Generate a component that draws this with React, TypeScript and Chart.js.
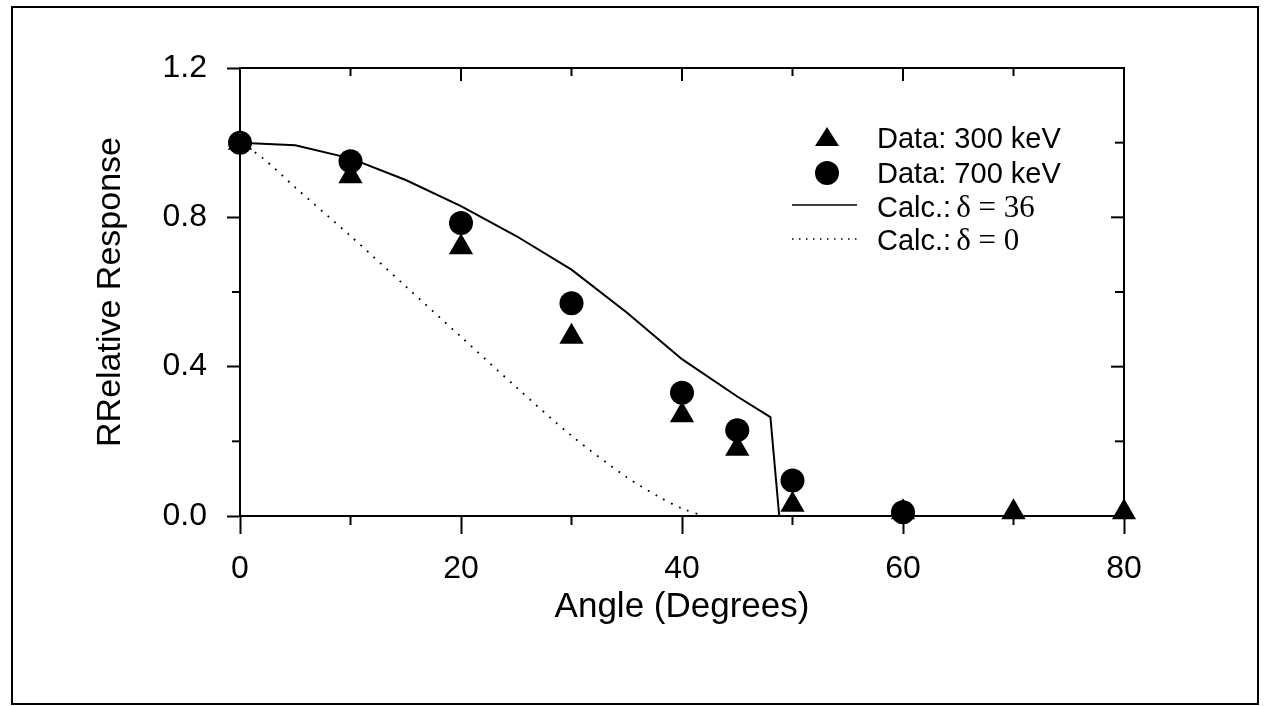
import React, { useEffect, useRef } from 'react';
import { Chart, registerables } from 'chart.js';

Chart.register(...registerables);

// ---- data ----
const angles300 = [0, 10, 20, 30, 40, 45, 50, 60, 70, 80];
const resp300 = [1.0, 0.91, 0.72, 0.48, 0.27, 0.18, 0.03, 0.01, 0.01, 0.01];

const angles700 = [0, 10, 20, 30, 40, 45, 50, 60];
const resp700 = [1.0, 0.95, 0.785, 0.57, 0.33, 0.23, 0.095, 0.01];

const calc36Angles = [0, 5, 10, 15, 20, 25, 30, 35, 40, 45, 48, 48.8, 80];
const calc36 = [1.0, 0.993, 0.958, 0.9, 0.83, 0.75, 0.66, 0.545, 0.42, 0.32, 0.265, 0, 0];

const calc0Angles = [0, 2, 5, 10, 15, 20, 25, 30, 35, 38, 40, 42];
const calc0 = [1.0, 0.96, 0.88, 0.75, 0.615, 0.48, 0.345, 0.215, 0.104, 0.05, 0.02, 0];

const xMajorTicks = [0, 20, 40, 60, 80];
const xMinorTicks = [10, 30, 50, 70];
const yMajorTicks = [0, 0.4, 0.8, 1.2];
const yMinorTicks = [0.2, 0.6, 1.0];

const legendLabels = ['Data: 300 keV', 'Data: 700 keV', 'Calc.: ', 'Calc.: '];
const legendSerif = ['', '', 'δ = 36', 'δ = 0'];

const SANS = '"Liberation Sans", Arial, Helvetica, sans-serif';
const SERIF = '"Liberation Serif", "Times New Roman", serif';

const pts = (xs: number[], ys: number[]) => xs.map((x, i) => ({ x, y: ys[i] }));

const decorPlugin = {
  id: 'decor',
  afterDraw(chart: any) {
    const ctx = chart.ctx as CanvasRenderingContext2D;
    const { left, right, top, bottom } = chart.chartArea;
    const xs = chart.scales.x;
    const ys = chart.scales.y;
    ctx.save();
    ctx.strokeStyle = '#000';
    ctx.fillStyle = '#000';
    ctx.lineWidth = 2;
    // top and right frame of plot
    ctx.beginPath();
    ctx.moveTo(left, top);
    ctx.lineTo(right, top);
    ctx.lineTo(right, bottom);
    ctx.stroke();
    const seg = (x1: number, y1: number, x2: number, y2: number) => {
      ctx.beginPath();
      ctx.moveTo(x1, y1);
      ctx.lineTo(x2, y2);
      ctx.stroke();
    };
    xMinorTicks.forEach((v) => {
      const p = xs.getPixelForValue(v);
      seg(p, bottom, p, bottom + 9);
      seg(p, top, p, top + 8);
    });
    xMajorTicks.forEach((v) => {
      const p = xs.getPixelForValue(v);
      seg(p, top, p, top + 13);
    });
    yMinorTicks.forEach((v) => {
      const p = ys.getPixelForValue(v);
      seg(left - 8, p, left, p);
      seg(right - 9, p, right, p);
    });
    yMajorTicks.forEach((v) => {
      const p = ys.getPixelForValue(v);
      seg(right - 13, p, right, p);
    });

    // legend
    const symX = left + 587;
    const textX = left + 637;
    const rows = [top + 80, top + 115, top + 149, top + 182];
    ctx.textBaseline = 'alphabetic';
    ctx.textAlign = 'left';
    legendLabels.forEach((lab, i) => {
      const base = rows[i];
      const cy = base - 10;
      ctx.font = `29px ${SANS}`;
      ctx.fillText(lab, textX, base);
      if (legendSerif[i]) {
        const w = ctx.measureText(lab).width;
        ctx.font = `31px ${SERIF}`;
        ctx.fillText(legendSerif[i], textX + w - 3, base);
      }
      if (i === 0) {
        ctx.beginPath();
        ctx.moveTo(symX, cy - 11);
        ctx.lineTo(symX + 12, cy + 8);
        ctx.lineTo(symX - 12, cy + 8);
        ctx.closePath();
        ctx.fill();
      } else if (i === 1) {
        ctx.beginPath();
        ctx.arc(symX, cy, 12, 0, Math.PI * 2);
        ctx.fill();
      } else if (i === 2) {
        ctx.lineWidth = 1.5;
        seg(symX - 35, cy - 2, symX + 30, cy - 2);
      } else {
        ctx.lineWidth = 1.5;
        ctx.setLineDash([1.5, 5.5]);
        seg(symX - 35, cy - 1, symX + 30, cy - 1);
        ctx.setLineDash([]);
      }
    });

    // outer frame
    ctx.lineWidth = 2;
    ctx.strokeRect(12, 7, 1246, 697);
    ctx.restore();
  },
};

export default function App() {
  const ref = useRef<HTMLCanvasElement>(null);
  useEffect(() => {
    const canvas = ref.current;
    if (!canvas) return;
    const chart = new Chart(canvas, {
      type: 'scatter',
      data: {
        datasets: [
          {
            label: 'Calc.: δ = 36',
            data: pts(calc36Angles, calc36),
            showLine: true,
            borderColor: '#000',
            borderWidth: 2,
            pointRadius: 0,
            tension: 0,
            fill: false,
          },
          {
            label: 'Calc.: δ = 0',
            data: pts(calc0Angles, calc0),
            showLine: true,
            borderColor: '#000',
            borderWidth: 1.8,
            borderDash: [1.8, 7],
            pointRadius: 0,
            tension: 0.3,
            fill: false,
          },
          {
            label: 'Data: 300 keV',
            data: pts(angles300, resp300),
            showLine: false,
            pointStyle: 'triangle',
            pointRadius: 14,
            backgroundColor: '#000',
            borderColor: '#000',
            borderWidth: 0,
            clip: false,
          },
          {
            label: 'Data: 700 keV',
            data: pts(angles700, resp700),
            showLine: false,
            pointStyle: 'circle',
            pointRadius: 12,
            backgroundColor: '#000',
            borderColor: '#000',
            borderWidth: 0,
            clip: false,
          },
        ],
      },
      options: {
        responsive: false,
        animation: false,
        layout: { padding: { left: 0, top: 68, right: 140, bottom: 0 } },
        plugins: {
          legend: { display: false },
          tooltip: { enabled: false },
        },
        scales: {
          x: {
            type: 'linear',
            min: 0,
            max: 80,
            afterFit: (s: any) => {
              s.height = 190;
            },
            ticks: {
              stepSize: 20,
              color: '#000',
              font: { family: SANS, size: 32 },
              padding: 16,
              maxRotation: 0,
            },
            grid: {
              display: true,
              drawOnChartArea: false,
              drawTicks: true,
              tickLength: 18,
              tickColor: '#000',
              tickWidth: 2,
            },
            border: { display: true, color: '#000', width: 2 },
            title: {
              display: true,
              text: 'Angle (Degrees)',
              color: '#000',
              font: { family: SANS, size: 35 },
              padding: { top: 0, bottom: 78 },
            },
          },
          y: {
            type: 'linear',
            min: 0,
            max: 1.2,
            afterFit: (s: any) => {
              s.width = 240;
            },
            ticks: {
              stepSize: 0.4,
              color: '#000',
              font: { family: SANS, size: 32 },
              padding: 20,
              callback: (v: any) => Number(v).toFixed(1),
            },
            grid: {
              display: true,
              drawOnChartArea: false,
              drawTicks: true,
              tickLength: 13,
              tickColor: '#000',
              tickWidth: 2,
            },
            border: { display: true, color: '#000', width: 2 },
            title: {
              display: true,
              text: 'RRelative Response',
              color: '#000',
              font: { family: SANS, size: 34 },
              padding: { top: 90, bottom: 0 },
            },
          },
        },
      },
      plugins: [decorPlugin],
    } as any);
    return () => chart.destroy();
  }, []);

  return (
    <div style={{ position: 'fixed', left: 0, top: 0, width: 1264, height: 706, background: '#fff' }}>
      <canvas ref={ref} width={1264} height={706} style={{ display: 'block', width: 1264, height: 706 }} />
    </div>
  );
}
